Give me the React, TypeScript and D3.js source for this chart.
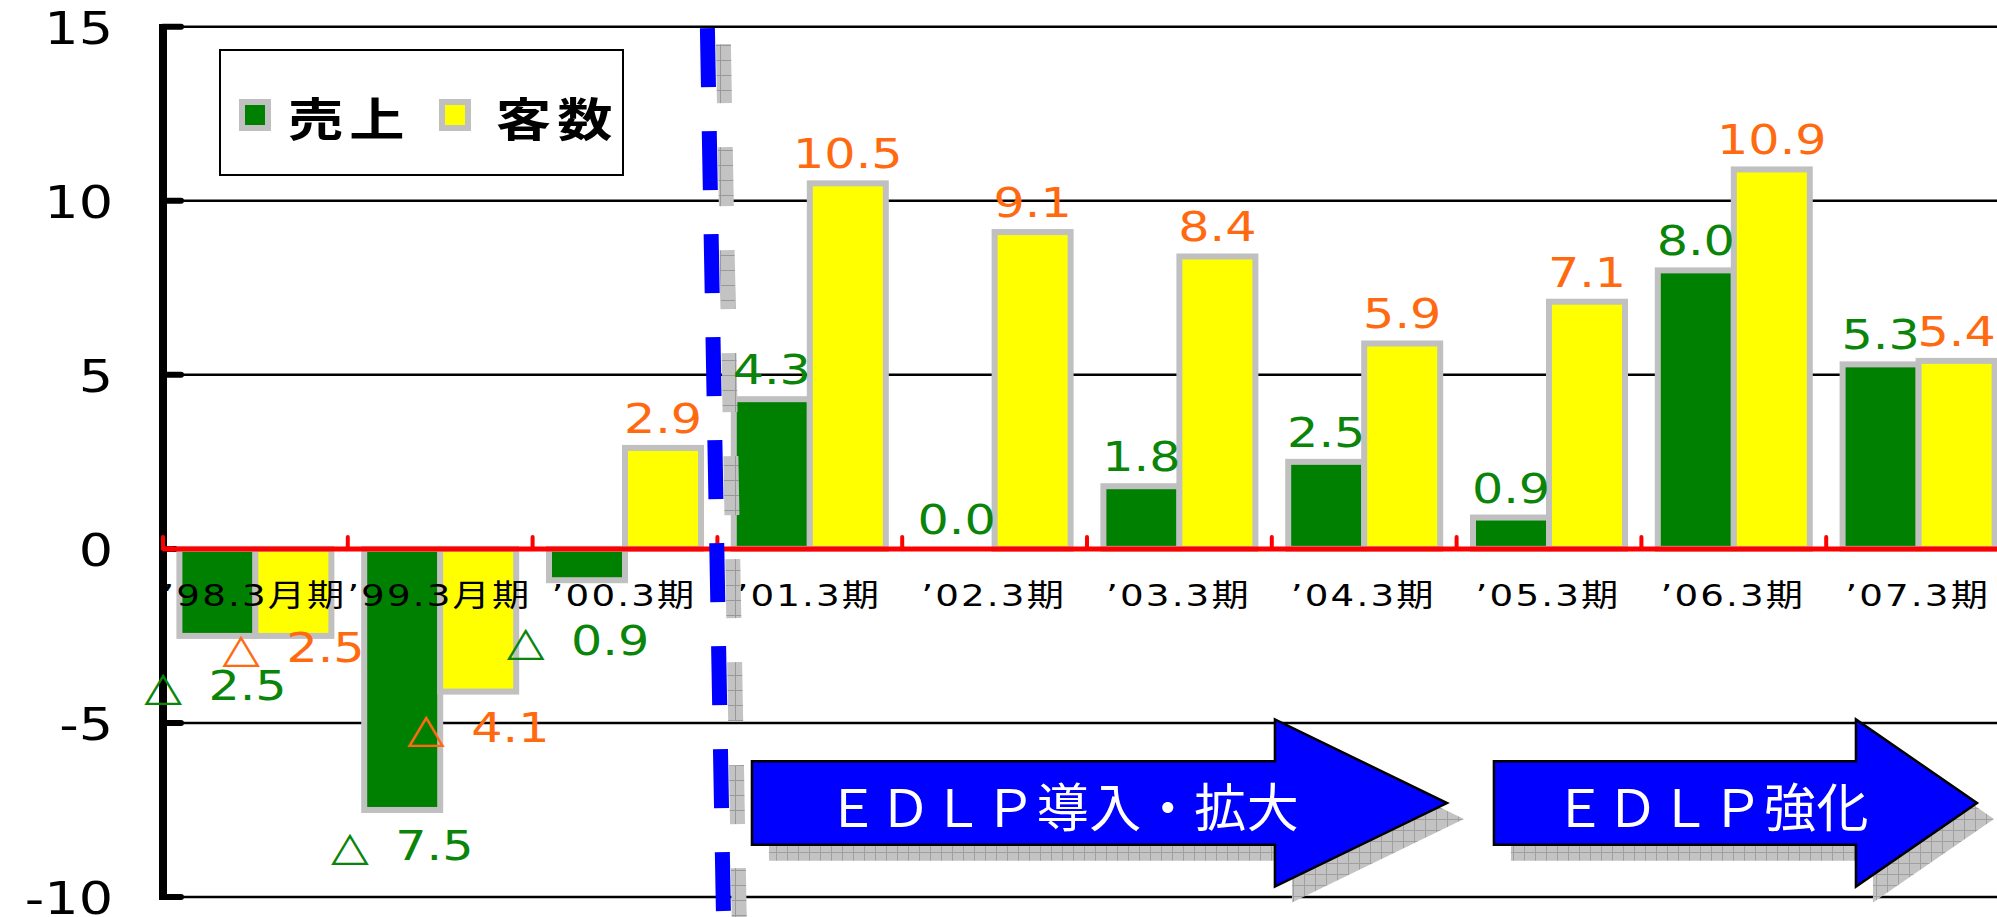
import React from 'react';
import * as d3 from 'd3';

// chart data
const categories = ['’98.3月期', '’99.3月期', '’00.3期', '’01.3期', '’02.3期', '’03.3期', '’04.3期', '’05.3期', '’06.3期', '’07.3期'];
const seriesKeys = ['sales', 'customers'];
const seriesNames = ['売上', '客数'];
const salesValues = [-2.5, -7.5, -0.9, 4.3, 0.0, 1.8, 2.5, 0.9, 8.0, 5.3];
const customerValues = [-2.5, -4.1, 2.9, 10.5, 9.1, 8.4, 5.9, 7.1, 10.9, 5.4];
const yTicks = [-10, -5, 0, 5, 10, 15];
const arrowTexts = ['ＥＤＬＰ導入・拡大', 'ＥＤＬＰ強化'];

const W = 1997;
const H = 917;
const SX = 1.2; // the original text is stretched horizontally
const FONT = "'DejaVu Sans', 'Noto Sans CJK JP', sans-serif";
const CJK = "'Noto Sans CJK JP', sans-serif";

const barFill: Record<string, string> = { sales: '#008000', customers: '#ffff00' };
const labelFill: Record<string, string> = { sales: '#0a850a', customers: '#ff6a10' };

// hand placed labels under the negative bars (dx, dy from bar end)
const negNudge: Record<string, Record<number, [number, number]>> = {
  sales: { 0: [-2, 64], 1: [0, 50], 2: [-9, 75] },
  customers: { 0: [0, 26], 1: [0, 50] },
};

// annotation arrows in category units
const arrows = [
  { left: 3.187, head: 6.017, tip: 6.948, textAt: 4.87 },
  { left: 7.202, head: 9.161, tip: 9.816, textAt: 8.38 },
];

const fmt = d3.format('.1f');

const Txt = ({ x, y, anchor = 'middle', size, fill = '#000', weight = 400, ls = 0, family = FONT, sx = SX, baseline, children }: any) => (
  <text
    transform={`translate(${x},${y}) scale(${sx},1)`}
    textAnchor={anchor}
    fontSize={size}
    fill={fill}
    fontWeight={weight}
    letterSpacing={ls}
    fontFamily={family}
    dominantBaseline={baseline}
  >
    {children}
  </text>
);

export default function App() {
  const y = d3.scaleLinear().domain([-10, 15]).range([897, 26.7]);
  const x = d3.scaleBand<string>().domain(categories).range([163, 163 + 184.8 * categories.length]);
  const bw = x.bandwidth();
  const xSub = d3.scaleBand<string>().domain(seriesKeys).range([(bw - 152) / 2, (bw + 152) / 2]);
  const cat = d3.scaleLinear().domain([0, categories.length]).range(x.range() as [number, number]);
  const y0 = y(0);
  const axisX = 163;

  const series = [
    { key: 'sales', values: salesValues },
    { key: 'customers', values: customerValues },
  ];

  const line = d3.line();
  const arrowPath = (a: typeof arrows[0]) =>
    line([
      [cat(a.left), y(-6.1)],
      [cat(a.head), y(-6.1)],
      [cat(a.head), y(-4.9)],
      [cat(a.tip), y(-7.3)],
      [cat(a.head), y(-9.7)],
      [cat(a.head), y(-8.5)],
      [cat(a.left), y(-8.5)],
    ]) + 'Z';

  // dashed divider between '00 and '01
  const divTop: [number, number] = [cat(3) - 10, y(15) + 1.5];
  const divBot: [number, number] = [cat(3) + 6, y(-10) + 14];

  return (
    <div style={{ position: 'absolute', left: 0, top: 0 }}>
      <svg width={W} height={H} viewBox={`0 0 ${W} ${H}`} style={{ display: 'block', background: '#fff' }}>
        <defs>
          <pattern id="chk" width={15} height={15} patternUnits="userSpaceOnUse">
            <rect width={15} height={15} fill="#c3c3c3" />
            <path d="M0 0.5H15M0.5 0V15" stroke="#999" strokeWidth={1} />
          </pattern>
          <pattern id="chk2" width={11} height={11} patternUnits="userSpaceOnUse">
            <rect width={11} height={11} fill="#c3c3c3" />
            <path d="M0 0.5H11M0.5 0V11" stroke="#a0a0a0" strokeWidth={1} />
          </pattern>
        </defs>

        {/* gridlines */}
        {yTicks.filter(t => t !== 0).map(t => (
          <line key={t} x1={axisX} x2={W} y1={y(t)} y2={y(t)} stroke="#000" strokeWidth={2.5} />
        ))}
        {yTicks.map(t => (
          <line key={'s' + t} x1={axisX} x2={axisX + 18} y1={y(t)} y2={y(t)} stroke="#000" strokeWidth={6} strokeLinecap="round" />
        ))}

        {/* y labels */}
        {yTicks.map(t => (
          <Txt key={'l' + t} x={113} y={y(t) + 17} anchor="end" size={45}>
            {String(t)}
          </Txt>
        ))}

        {/* bars */}
        {series.map(s =>
          s.values.map((v, i) =>
            v === 0 ? null : (
              <rect
                key={s.key + i}
                x={(x(categories[i]) as number) + (xSub(s.key) as number)}
                y={Math.min(y(v), y0)}
                width={xSub.bandwidth()}
                height={Math.abs(y(v) - y0)}
                fill={barFill[s.key]}
                stroke="#c0c0c0"
                strokeWidth={6}
              />
            )
          )
        )}

        {/* red zero line with category ticks */}
        <line x1={axisX - 3} x2={W} y1={y0} y2={y0} stroke="#ff0000" strokeWidth={5} />
        {d3.range(categories.length + 1).map(i => (
          <line key={'rt' + i} x1={cat(i)} x2={cat(i)} y1={y0 - 12} y2={y0} stroke="#ff0000" strokeWidth={4} strokeLinecap="round" />
        ))}

        {/* category labels */}
        {categories.map(c => (
          <Txt key={c} x={(x(c) as number) + bw / 2 - 1} y={y0 + 57} size={31} ls={1.8}>
            {c}
          </Txt>
        ))}

        {/* y axis */}
        <line x1={axisX} x2={axisX} y1={24} y2={900} stroke="#000" strokeWidth={8} />
        <line x1={axisX} x2={axisX + 10} y1={y0} y2={y0} stroke="#ff0000" strokeWidth={5} />
        <line x1={axisX} x2={axisX} y1={y0 - 12} y2={y0} stroke="#ff0000" strokeWidth={4} strokeLinecap="round" />

        {/* dashed divider */}
        <line
          x1={divTop[0] + 16} y1={divTop[1] + 16} x2={divBot[0] + 16} y2={divBot[1] + 16}
          stroke="url(#chk)" strokeWidth={15} strokeDasharray="59 44"
        />
        <line
          x1={divTop[0]} y1={divTop[1]} x2={divBot[0]} y2={divBot[1]}
          stroke="#0000ff" strokeWidth={15} strokeDasharray="59 44"
        />

        {/* arrows */}
        {arrows.map((a, i) => (
          <g key={'a' + i}>
            <path d={arrowPath(a)} transform="translate(17,16)" fill="url(#chk2)" />
            <path d={arrowPath(a)} fill="#0000ff" stroke="#000" strokeWidth={2.5} strokeLinejoin="miter" />
            <Txt x={cat(a.textAt)} y={y(-7.35)} size={52} fill="#fff" family={CJK} sx={1} ls={0.5} baseline="central">
              {arrowTexts[i]}
            </Txt>
          </g>
        ))}

        {/* value labels */}
        {series.map(s =>
          s.values.map((v, i) => {
            const cx = (x(categories[i]) as number) + (xSub(s.key) as number) + xSub.bandwidth() / 2;
            if (v >= 0) {
              return (
                <Txt key={'v' + s.key + i} x={cx} y={y(v) - 15} size={41} fill={labelFill[s.key]}>
                  {fmt(v)}
                </Txt>
              );
            }
            const [dx, dy] = negNudge[s.key][i] || [0, 40];
            return (
              <text
                key={'v' + s.key + i}
                transform={`translate(${cx + dx},${y(v) + dy}) scale(${SX},1)`}
                textAnchor="middle"
                fontSize={41}
                fill={labelFill[s.key]}
                fontFamily={FONT}
              >
                <tspan>△</tspan>
                <tspan dx={22}>{fmt(-v)}</tspan>
              </text>
            );
          })
        )}

        {/* legend */}
        <rect x={220} y={50} width={403} height={125} fill="#fff" stroke="#000" strokeWidth={2} />
        {seriesKeys.map((k, i) => (
          <g key={'lg' + k}>
            <rect x={242 + i * 200} y={102} width={26} height={26} fill={barFill[k]} stroke="#c0c0c0" strokeWidth={6} />
            <Txt x={288 + i * 208} y={116} anchor="start" size={46} weight={700} ls={5} family={CJK} baseline="central">
              {seriesNames[i]}
            </Txt>
          </g>
        ))}
      </svg>
    </div>
  );
}
